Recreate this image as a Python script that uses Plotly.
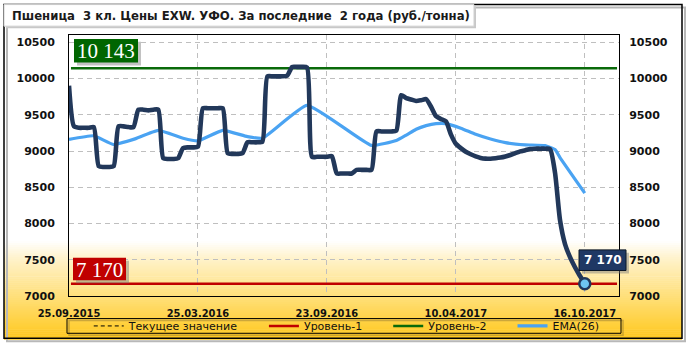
import plotly.graph_objects as go

# ---------------- data ----------------
TITLE = "Пшеница\u00a0 3 кл. Цены EXW. УФО. За последние\u00a0 2 года (руб./тонна)"
tick_idx = [0, 26, 52, 78, 104]
tick_labels = ["25.09.2015", "25.03.2016", "23.09.2016", "10.04.2017", "16.10.2017"]

price = [9900, 9340, 9320, 9320, 9320, 9330, 8790, 8780, 8780, 8790,
         9340, 9340, 9330, 9330, 9570, 9570, 9560, 9570, 9570, 8900,
         8890, 8890, 8900, 9040, 9050, 9050, 9060, 9590, 9590, 9590,
         9590, 9590, 8970, 8960, 8960, 8970, 9120, 9120, 9120, 9130,
         10030, 10030, 10030, 10030, 10040, 10160, 10160, 10160, 10150, 8920,
         8920, 8920, 8920, 8930, 8690, 8690, 8690, 8690, 8740, 8740,
         8740, 8740, 9270, 9270, 9270, 9270, 9280, 9770, 9730, 9710,
         9690, 9700, 9715, 9610, 9480, 9440, 9410, 9230, 9100, 9040,
         8990, 8955, 8925, 8905, 8895, 8893, 8900, 8910, 8925, 8945,
         8970, 8995, 9010, 9028, 9032, 9032, 9032, 9025, 8700, 8050,
         7720, 7540, 7400, 7280, 7170]
price_idx = list(range(len(price)))

ema_idx = [0, 5, 9, 13, 18, 23, 26, 31, 36, 39, 48, 61, 66, 68, 70, 72, 74, 76,
           79, 82, 85, 88, 92, 96, 98, 99, 104]
ema = [9160, 9210, 9090, 9160, 9285, 9176, 9140, 9285, 9198, 9176, 9630, 9077,
       9145, 9220, 9300, 9350, 9378, 9378, 9315, 9230, 9165, 9115, 9085, 9075,
       9020, 8910, 8420]

level1 = 7170   # Уровень-1
level2 = 10143  # Уровень-2
current = 7170  # Текущее значение
level_span = [0.4, 110.5]

series_names = ["Текущее значение", "Уровень-1", "Уровень-2", "EMA(26)"]
yticks = [7000, 7500, 8000, 8500, 9000, 9500, 10000, 10500]
ytick_text = [str(v) for v in yticks]

# ---------------- layout helpers ----------------
L, R, T, B = 69, 71, 35, 51
W, H = 690, 352
PW, PH = W - L - R, H - T - B


def X(px):
    return (px - L) / PW


def Y(py):
    return (H - B - py) / PH


NAVY = "#22385A"
BLUE = "#4AA3F2"
RED = "#C00000"
GREEN = "#0A6A0A"
PAD = "\u00a0" * 6

fig = go.Figure()

fig.add_trace(go.Scatter(x=level_span, y=[current, current], mode="lines",
                         name=series_names[0] + PAD,
                         line=dict(color="#000000", width=1, dash="4px,3px")))
fig.add_trace(go.Scatter(x=level_span, y=[level1, level1], mode="lines",
                         name=series_names[1] + PAD, line=dict(color=RED, width=2.5)))
fig.add_trace(go.Scatter(x=level_span, y=[level2, level2], mode="lines",
                         name=series_names[2] + PAD, line=dict(color=GREEN, width=2.5)))
fig.add_trace(go.Scatter(x=ema_idx, y=ema, mode="lines", name=series_names[3],
                         line=dict(color=BLUE, width=3.2, shape="spline", smoothing=0.4)))
fig.add_trace(go.Scatter(x=price_idx, y=price, mode="lines", showlegend=False,
                         line=dict(color=NAVY, width=4.6, shape="spline", smoothing=0.6)))
fig.add_trace(go.Scatter(x=[price_idx[-1]], y=[price[-1]], mode="markers", showlegend=False,
                         marker=dict(size=11, color="#6EC6F0", line=dict(color=NAVY, width=2.5))))
# invisible trace to activate right axis
fig.add_trace(go.Scatter(x=[price_idx[0]], y=[price[0]], yaxis="y2", mode="markers",
                         marker=dict(opacity=0), showlegend=False, hoverinfo="skip"))

shapes = []
# gradient background
stops = [(245, (255, 255, 255)), (262, (255, 243, 205)), (300, (255, 224, 125)), (344, (255, 200, 30))]


def col_at(py):
    for (a, ca), (b, cb) in zip(stops[:-1], stops[1:]):
        if a <= py <= b:
            t = (py - a) / (b - a)
            return "rgb(%d,%d,%d)" % tuple(round(ca[i] + (cb[i] - ca[i]) * t) for i in range(3))
    return "rgb(255,200,30)"


step = 2
py = 245
while py < 344:
    shapes.append(dict(type="rect", xref="paper", yref="paper", layer="below",
                       x0=X(4), x1=X(682), y0=Y(py + step + 0.5), y1=Y(py),
                       fillcolor=col_at(py + step / 2), line=dict(width=0)))
    py += step

# outer border with shadow
shapes.append(dict(type="rect", xref="paper", yref="paper", layer="below",
                   x0=X(7), x1=X(685), y0=Y(347), y1=Y(7), fillcolor="rgba(0,0,0,0)",
                   line=dict(color="#B8B8B8", width=2)))
shapes.append(dict(type="rect", xref="paper", yref="paper", layer="below",
                   x0=X(4), x1=X(682), y0=Y(344), y1=Y(4), fillcolor="rgba(0,0,0,0)",
                   line=dict(color="#000000", width=1.5)))
# title box
shapes.append(dict(type="rect", xref="paper", yref="paper",
                   x0=X(6), x1=X(476), y0=Y(28), y1=Y(6), fillcolor="#C8C8C8",
                   line=dict(width=0)))
shapes.append(dict(type="rect", xref="paper", yref="paper",
                   x0=X(4), x1=X(474), y0=Y(26), y1=Y(4), fillcolor="#FFFFFF",
                   line=dict(color="#D0D0D0", width=1)))
# legend box
shapes.append(dict(type="rect", xref="paper", yref="paper",
                   x0=X(69), x1=X(623), y0=Y(341), y1=Y(326), fillcolor="rgba(0,0,0,0)",
                   line=dict(color="rgba(110,90,40,0.35)", width=1.5)))
shapes.append(dict(type="rect", xref="paper", yref="paper",
                   x0=X(67), x1=X(621), y0=Y(339), y1=Y(324), fillcolor="rgba(0,0,0,0)",
                   line=dict(color="#000000", width=1)))
# level label boxes
shapes.append(dict(type="rect", xref="paper", yref="paper",
                   x0=X(77), x1=X(141), y0=Y(66), y1=Y(42), fillcolor="rgba(120,120,120,0.45)",
                   line=dict(width=0)))
shapes.append(dict(type="rect", xref="paper", yref="paper",
                   x0=X(74), x1=X(138), y0=Y(63), y1=Y(39), fillcolor="#006600",
                   line=dict(width=0)))
shapes.append(dict(type="rect", xref="paper", yref="paper",
                   x0=X(76), x1=X(129), y0=Y(288), y1=Y(265), fillcolor="rgba(120,120,120,0.45)",
                   line=dict(width=0)))
shapes.append(dict(type="rect", xref="paper", yref="paper",
                   x0=X(73), x1=X(126), y0=Y(285), y1=Y(262), fillcolor=RED,
                   line=dict(width=0)))
shapes.append(dict(type="rect", xref="paper", yref="paper",
                   x0=X(582), x1=X(629), y0=Y(278), y1=Y(257), fillcolor="rgba(120,120,120,0.45)",
                   line=dict(width=0)))
shapes.append(dict(type="rect", xref="paper", yref="paper",
                   x0=X(579), x1=X(626), y0=Y(275), y1=Y(254), fillcolor="#1F3864",
                   line=dict(color="#0B1626", width=1)))

annotations = [
    dict(text=TITLE, xref="paper", yref="paper", x=X(10), y=Y(15.5), xanchor="left",
         yanchor="middle", showarrow=False,
         font=dict(family="DejaVu Sans", size=11.7, color="#1A1A1A", weight="bold")),
    dict(text="10 143", xref="paper", yref="paper", x=X(106), y=Y(51.5), xanchor="center",
         yanchor="middle", showarrow=False,
         font=dict(family="Liberation Serif", size=21, color="#FFFFFF")),
    dict(text="7 170", xref="paper", yref="paper", x=X(99.5), y=Y(274), xanchor="center",
         yanchor="middle", showarrow=False,
         font=dict(family="Liberation Serif", size=21, color="#FFFFFF")),
    dict(text="7 170", xref="paper", yref="paper", x=X(602.5), y=Y(264.5), xanchor="center",
         yanchor="middle", showarrow=False,
         font=dict(family="DejaVu Sans", size=12, color="#FFFFFF", weight="bold")),
]

axis_font = dict(family="DejaVu Sans", size=11, color="#111111", weight="bold")

fig.update_layout(
    width=W, height=H, autosize=False,
    margin=dict(l=L, r=R, t=T, b=B, pad=0),
    paper_bgcolor="#FFFFFF", plot_bgcolor="rgba(0,0,0,0)",
    showlegend=True,
    legend=dict(orientation="h", x=0.505, xanchor="center", y=Y(331.5), yanchor="middle",
                bgcolor="rgba(0,0,0,0)", borderwidth=0, traceorder="normal",
                font=dict(family="DejaVu Sans", size=11, color="#111111")),
    xaxis=dict(range=[0, 110.9], tickmode="array", tickvals=tick_idx, ticktext=tick_labels,
               showgrid=True, gridcolor="#BFBFBF", griddash="5px,4px", gridwidth=1,
               zeroline=False, showline=True, linecolor="#000000", linewidth=1, mirror=True,
               ticks="outside", ticklen=7, tickcolor="rgba(0,0,0,0)",
               tickfont=dict(family="DejaVu Sans Condensed", size=11, color="#111111", weight="bold")),
    yaxis=dict(range=[7000, 10600], tickmode="array", tickvals=yticks, ticktext=ytick_text,
               showgrid=True, gridcolor="#BFBFBF", griddash="5px,4px", gridwidth=1,
               zeroline=False, showline=True, linecolor="#000000", linewidth=1, mirror=True,
               ticks="outside", ticklen=11, tickcolor="rgba(0,0,0,0)", tickfont=axis_font),
    yaxis2=dict(range=[7000, 10600], overlaying="y", side="right", tickmode="array",
                tickvals=yticks, ticktext=ytick_text, showgrid=False, zeroline=False,
                showline=False, ticks="outside", ticklen=7, tickcolor="rgba(0,0,0,0)",
                tickfont=axis_font),
    shapes=shapes, annotations=annotations,
)

fig.write_html("out.html")
